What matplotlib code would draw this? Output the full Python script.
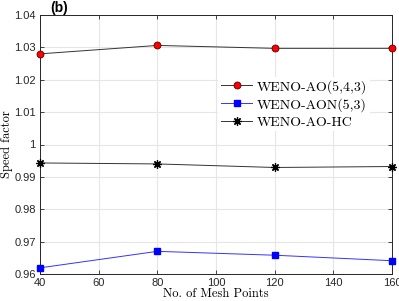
import matplotlib
matplotlib.use("Agg")
import matplotlib.pyplot as plt

# mesh points and speed factors
mesh = [40, 80, 120, 160]
ao_543 = [1.0280, 1.0306, 1.0297, 1.0297]
aon_53 = [0.9619, 0.9670, 0.9658, 0.9641]
ao_hc = [0.9943, 0.9940, 0.9929, 0.9932]

labels = ["WENO-AO(5,4,3)", "WENO-AON(5,3)", "WENO-AO-HC"]
yticks = [0.96, 0.97, 0.98, 0.99, 1.0, 1.01, 1.02, 1.03, 1.04]
xticks = [40, 60, 80, 100, 120, 140, 160]

serif = ["cmr10", "DejaVu Serif"]

fig = plt.figure(figsize=(3.99, 3.01), dpi=100)
ax = fig.add_axes([40 / 399, 1 - 274 / 301, 352 / 399, 259 / 301])

ax.plot(mesh, ao_543, color="#333333", lw=0.7, marker="o", ms=5,
        mfc="red", mec="#550000", mew=0.6, label=labels[0], clip_on=False, zorder=3)
ax.plot(mesh, aon_53, color="#3333ff", lw=0.7, marker="s", ms=4.5,
        mfc="blue", mec="blue", label=labels[1], clip_on=False, zorder=3)
ax.plot(mesh, ao_hc, color="#333333", lw=0.7, marker=(8, 2, 0), ms=6,
        mec="black", mew=0.9, label=labels[2], clip_on=False, zorder=3)

ax.set_xlim(40, 160)
ax.set_ylim(0.96, 1.04)
ax.set_xticks(xticks)
ax.set_yticks(yticks)
ax.set_xticklabels([str(v) for v in xticks])
ax.set_yticklabels(["0.96", "0.97", "0.98", "0.99", "1", "1.01", "1.02", "1.03", "1.04"])
ax.grid(True, color="#e6e6e6", lw=0.8)
ax.set_axisbelow(True)
ax.tick_params(labelsize=8, direction="in", length=3, width=0.6, colors="#262626",
               top=True, right=True, pad=3)
for lab in ax.get_xticklabels() + ax.get_yticklabels():
    lab.set_family(["Liberation Sans", "DejaVu Sans"])
for s in ax.spines.values():
    s.set_color("#262626")
    s.set_linewidth(0.7)

ax.set_xlabel("No. of Mesh Points", family=serif, fontsize=9, labelpad=0)
ax.set_ylabel("Speed factor", family=serif, fontsize=9, labelpad=1)

leg = ax.legend(loc="upper left", bbox_to_anchor=(0.505, 0.76), frameon=True,
                prop={"family": serif, "size": 10}, handlelength=2.3,
                handletextpad=0.3, labelspacing=0.3, borderpad=0.2,
                borderaxespad=0)
leg.get_frame().set_edgecolor("none")
leg.get_frame().set_facecolor("white")
leg.get_frame().set_alpha(1)

fig.text(59 / 399, 1 - 8 / 301, "(b)", fontsize=10, fontweight="bold",
         family=["Liberation Sans", "DejaVu Sans"], ha="center", va="center")

fig.savefig("out.png", dpi=100)
